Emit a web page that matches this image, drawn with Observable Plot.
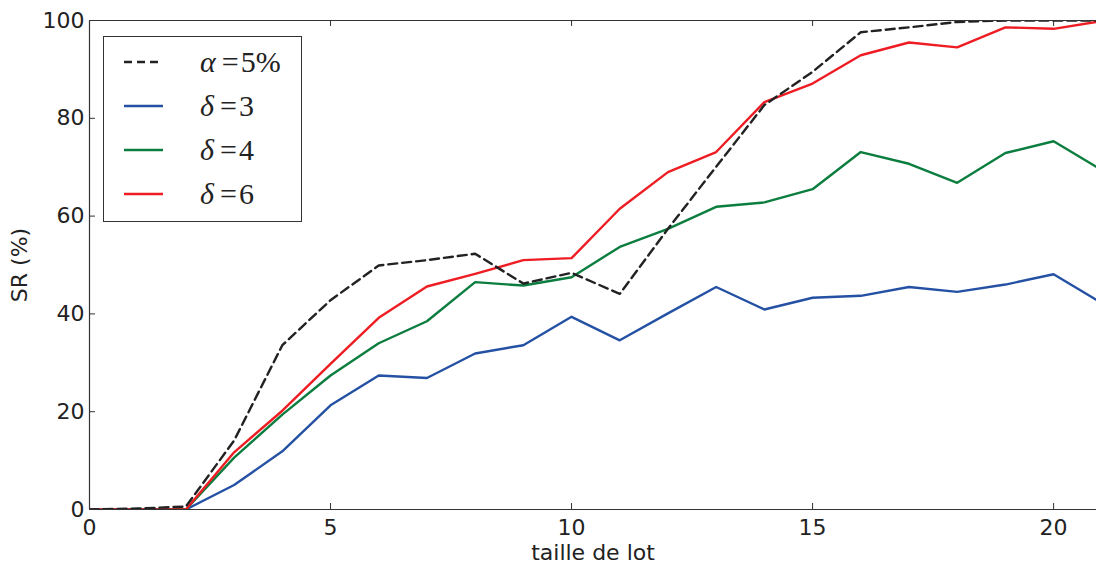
<!DOCTYPE html>
<html><head><meta charset="utf-8">
<script src="https://cdn.jsdelivr.net/npm/d3@7"></script>
<script src="https://cdn.jsdelivr.net/npm/@observablehq/plot@0.6"></script>
<style>
body{margin:0;background:#fff;}
#wrap{position:relative;width:1096px;height:566px;overflow:hidden;}
#legend{position:absolute;left:103px;top:36px;width:199px;height:186px;border:1px solid #333;background:#fff;box-sizing:border-box;}
</style></head><body><div id="wrap"></div>
<script>
const lotSizes = [0,1,2,3,4,5,6,7,8,9,10,11,12,13,14,15,16,17,18,19,20,21];
const alpha5 = [0,0.2,0.6,14.1,33.6,42.8,49.9,51.0,52.3,46.2,48.4,44.1,57.4,70.1,82.7,89.5,97.6,98.6,99.7,100,100,100];
const delta3 = [0,0,0,5.0,11.9,21.3,27.4,26.9,31.9,33.6,39.4,34.6,40.1,45.5,40.9,43.3,43.7,45.5,44.5,46.0,48.1,42.2];
const delta4 = [0,0,0,10.6,19.4,27.4,34.0,38.5,46.5,45.8,47.5,53.7,57.4,61.9,62.8,65.5,73.1,70.7,66.8,72.9,75.3,69.4];
const delta6 = [0,0,0,11.7,20.2,29.8,39.2,45.6,48.2,51.0,51.4,61.5,69.0,73.1,83.3,87.1,92.9,95.5,94.5,98.6,98.3,99.9];
const seriesNames = ["α=5%","δ=3","δ=4","δ=6"];
const seriesColors = ["#222222","#2451a4","#0b7d3e","#ee1d23"];
const xTicks = [0,5,10,15,20];
const yTicks = [0,20,40,60,80,100];

const allSeries = [alpha5, delta3, delta4, delta6];
const rows = [];
allSeries.forEach((vals, si) => vals.forEach((v, i) => rows.push({x: lotSizes[i], y: v, s: seriesNames[si]})));

const W = 1096, H = 566, mL = 89, mR = 0, mT = 20, mB = 57;
const pw = W - mL - mR, ph = H - mT - mB;
const tick = 6;

const lineMark = (name, extra = {}) => Plot.line(rows.filter(r => r.s === name), {
  x: "x", y: "y", stroke: seriesColors[seriesNames.indexOf(name)], strokeWidth: 2.4, clip: true, ...extra
});

const chart = Plot.plot({
  width: W, height: H,
  marginLeft: mL, marginRight: mR, marginTop: mT, marginBottom: mB,
  style: {fontFamily: "DejaVu Sans", fontSize: "22px", color: "#222", background: "#fff", overflow: "visible"},
  x: {domain: [0, 20.89]},
  y: {domain: [0, 100]},
  marks: [
    lineMark("δ=3"),
    lineMark("δ=4"),
    lineMark("δ=6"),
    lineMark("α=5%", {strokeDasharray: "9,5", strokeWidth: 2.4}),
    Plot.ruleY([0, 100], {stroke: "#333", strokeWidth: 1.2}),
    Plot.ruleX([0], {stroke: "#333", strokeWidth: 1.2}),
    Plot.tickX(xTicks, {x: d => d, stroke: "#333", insetTop: ph - tick}),
    Plot.tickX(xTicks, {x: d => d, stroke: "#333", insetBottom: ph - tick}),
    Plot.tickY(yTicks, {y: d => d, stroke: "#333", insetRight: pw - tick}),
    Plot.axisX({ticks: xTicks, tickSize: 0, tickPadding: 10, label: "taille de lot", labelAnchor: "center", labelOffset: 50, labelArrow: false, fontSize: 22}),
    Plot.axisY({ticks: yTicks, tickSize: 0, tickPadding: 5, label: "SR (%)", labelAnchor: "center", labelOffset: 78, labelArrow: false, fontSize: 22})
  ]
});
const wrap = document.getElementById("wrap");
wrap.appendChild(chart);

// Legend overlay
const leg = document.createElement("div");
leg.id = "legend";
const ns = "http://www.w3.org/2000/svg";
const ls = document.createElementNS(ns, "svg");
ls.setAttribute("width", 199); ls.setAttribute("height", 186);
const labelParts = [["α","=","5%"],["δ","=","3"],["δ","=","4"],["δ","=","6"]];
seriesNames.forEach((n, i) => {
  const yy = 25 + i * 44;
  const l = document.createElementNS(ns, "line");
  l.setAttribute("x1", 20); l.setAttribute("x2", 59);
  l.setAttribute("y1", yy); l.setAttribute("y2", yy);
  l.setAttribute("stroke", seriesColors[i]);
  l.setAttribute("stroke-width", 2.4);
  if (i === 0) l.setAttribute("stroke-dasharray", "8,5");
  ls.appendChild(l);
  const t = document.createElementNS(ns, "text");
  t.setAttribute("x", 96); t.setAttribute("y", yy + 10);
  t.setAttribute("font-family", "Liberation Serif");
  t.setAttribute("font-size", 30);
  t.setAttribute("fill", "#222");
  const a = document.createElementNS(ns, "tspan");
  a.setAttribute("font-style", "italic");
  a.textContent = labelParts[i][0];
  const b = document.createElementNS(ns, "tspan");
  b.setAttribute("dx", 6);
  b.textContent = labelParts[i][1];
  const c = document.createElementNS(ns, "tspan");
  c.setAttribute("dx", 2);
  c.textContent = labelParts[i][2];
  t.appendChild(a); t.appendChild(b); t.appendChild(c);
  ls.appendChild(t);
});
leg.appendChild(ls);
wrap.appendChild(leg);
</script>
</body></html>
